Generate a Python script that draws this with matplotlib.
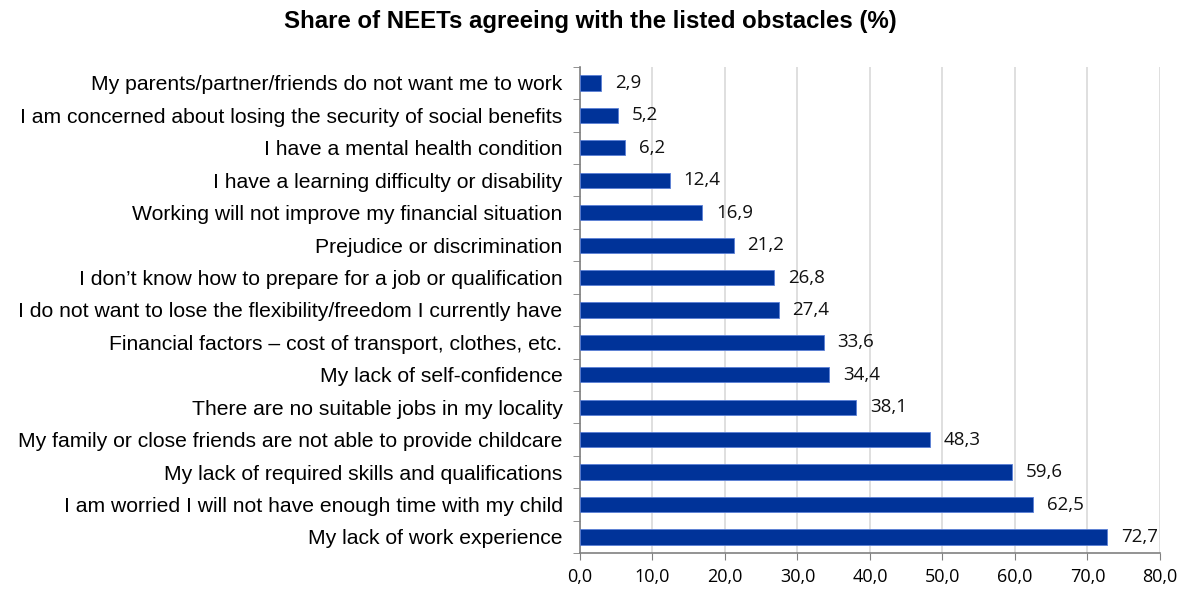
import matplotlib.pyplot as plt
import numpy as np

obstacles = [
    "My parents/partner/friends do not want me to work",
    "I am concerned about losing the security of social benefits",
    "I have a mental health condition",
    "I have a learning difficulty or disability",
    "Working will not improve my financial situation",
    "Prejudice or discrimination",
    "I don\u2019t know how to prepare for a job or qualification",
    "I do not want to lose the flexibility/freedom I currently have",
    "Financial factors \u2013 cost of transport, clothes, etc.",
    "My lack of self-confidence",
    "There are no suitable jobs in my locality",
    "My family or close friends are not able to provide childcare",
    "My lack of required skills and qualifications",
    "I am worried I will not have enough time with my child",
    "My lack of work experience",
]
shares = [2.9, 5.2, 6.2, 12.4, 16.9, 21.2, 26.8, 27.4, 33.6, 34.4, 38.1, 48.3, 59.6, 62.5, 72.7]
xticks = [0, 10, 20, 30, 40, 50, 60, 70, 80]

fig = plt.figure(figsize=(11.8, 5.91), dpi=100)
ax = fig.add_axes((0.4915, 0.064, 0.4915, 0.823))

y = np.arange(len(obstacles))
ax.barh(y, shares, height=0.47, color="#003399", edgecolor="#5b7fd6",
        linewidth=0.6, zorder=3)
ax.set_ylim(len(obstacles) - 0.5, -0.5)
ax.set_xlim(0, 80)

for yi, v in zip(y, shares):
    ax.text(v + 1.9, yi, f"{v:.1f}".replace(".", ","), va="center", ha="left",
            fontsize=13.5, family="Open Sans", color="#111111")

ax.set_yticks(y)
ax.set_yticklabels(obstacles, fontsize=15.2, family="Liberation Sans")
ax.set_yticks(np.arange(len(obstacles) + 1) - 0.5, minor=True)
ax.tick_params(axis="y", which="major", length=0, pad=12.5)
ax.tick_params(axis="y", which="minor", length=5, color="#808080")

ax.set_xticks(xticks)
ax.set_xticklabels([f"{t:.1f}".replace(".", ",") for t in xticks],
                   fontsize=13, family="Open Sans")
ax.tick_params(axis="x", length=5, color="#808080", pad=6)
ax.xaxis.grid(True, color="#d9d9d9", linewidth=1.2, zorder=0)

for side in ("top", "right"):
    ax.spines[side].set_visible(False)
for side in ("left", "bottom"):
    ax.spines[side].set_color("#808080")
    ax.spines[side].set_linewidth(1.2)

fig.text(0.5, 0.963, "Share of NEETs agreeing with the listed obstacles (%)",
         ha="center", va="center", fontsize=17.3, fontweight="bold",
         family="Liberation Sans")

fig.savefig("out.png", dpi=100)
